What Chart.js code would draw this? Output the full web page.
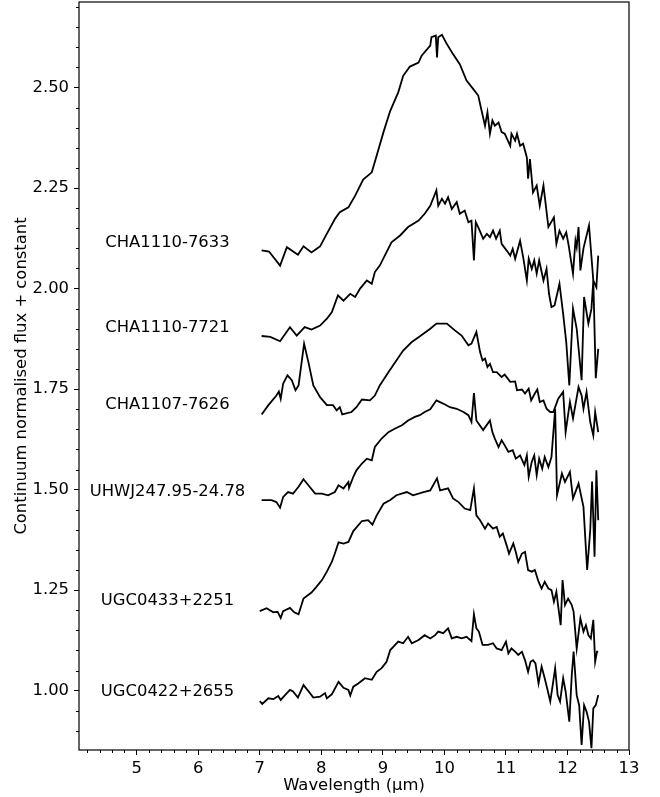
<!DOCTYPE html>
<html>
<head>
<meta charset="utf-8">
<script src="https://cdn.jsdelivr.net/npm/chart.js@4.4.1/dist/chart.umd.min.js"></script>
<style>
  html, body { margin: 0; padding: 0; background: #fff; }
  #wrap { width: 660px; height: 797px; }
</style>
</head>
<body>
<div id="wrap"><canvas id="spectra" width="660" height="797"></canvas></div>
<script>
// wavelength (um) and continuum normalised flux (+ offset)

const cha7633Wave = [7.03, 7.15, 7.33, 7.44, 7.62, 7.71, 7.84, 7.98, 8.06, 8.22, 8.30, 8.44, 8.55, 8.68, 8.82, 8.90, 9.01, 9.12, 9.25, 9.33, 9.44, 9.58, 9.63, 9.77, 9.79, 9.86, 9.88, 9.90, 9.96, 10.04, 10.14, 10.25, 10.36, 10.47, 10.55, 10.58, 10.66, 10.70, 10.74, 10.78, 10.82, 10.88, 10.93, 10.98, 11.07, 11.09, 11.15, 11.18, 11.23, 11.28, 11.34, 11.36, 11.39, 11.44, 11.50, 11.55, 11.61, 11.69, 11.78, 11.82, 11.87, 11.93, 11.98, 12.02, 12.09, 12.13, 12.15, 12.18, 12.21, 12.26, 12.35, 12.42, 12.47, 12.50];
const cha7633Flux = [2.095, 2.092, 2.057, 2.103, 2.084, 2.105, 2.090, 2.105, 2.128, 2.173, 2.190, 2.202, 2.231, 2.271, 2.289, 2.331, 2.389, 2.442, 2.488, 2.529, 2.552, 2.562, 2.579, 2.604, 2.625, 2.629, 2.575, 2.625, 2.631, 2.608, 2.583, 2.558, 2.517, 2.496, 2.480, 2.459, 2.405, 2.438, 2.385, 2.418, 2.405, 2.413, 2.389, 2.385, 2.355, 2.385, 2.368, 2.385, 2.355, 2.360, 2.326, 2.273, 2.322, 2.239, 2.256, 2.206, 2.256, 2.153, 2.177, 2.111, 2.144, 2.124, 2.140, 2.107, 2.037, 2.119, 2.103, 2.153, 2.045, 2.100, 2.157, 2.020, 2.003, 2.082];

const cha7721Wave = [7.03, 7.17, 7.33, 7.49, 7.60, 7.73, 7.84, 7.98, 8.09, 8.17, 8.27, 8.36, 8.47, 8.55, 8.63, 8.74, 8.82, 8.87, 8.95, 9.14, 9.28, 9.41, 9.58, 9.68, 9.77, 9.87, 9.90, 9.96, 10.01, 10.06, 10.12, 10.20, 10.25, 10.33, 10.39, 10.44, 10.48, 10.51, 10.56, 10.63, 10.69, 10.74, 10.79, 10.84, 10.90, 10.93, 11.01, 11.07, 11.11, 11.15, 11.23, 11.28, 11.34, 11.37, 11.42, 11.46, 11.50, 11.54, 11.61, 11.66, 11.70, 11.74, 11.79, 11.87, 11.93, 11.98, 12.03, 12.09, 12.15, 12.23, 12.27, 12.34, 12.39, 12.42, 12.46, 12.50];
const cha7721Flux = [1.882, 1.880, 1.869, 1.904, 1.883, 1.904, 1.898, 1.908, 1.925, 1.941, 1.983, 1.970, 1.987, 1.979, 2.000, 2.020, 2.012, 2.041, 2.057, 2.115, 2.132, 2.153, 2.169, 2.186, 2.206, 2.244, 2.206, 2.223, 2.211, 2.227, 2.198, 2.215, 2.186, 2.194, 2.165, 2.169, 2.070, 2.165, 2.149, 2.124, 2.136, 2.128, 2.144, 2.124, 2.144, 2.111, 2.095, 2.082, 2.099, 2.074, 2.119, 2.078, 2.020, 2.074, 2.049, 2.070, 2.037, 2.070, 2.020, 2.049, 1.987, 1.954, 1.958, 2.012, 1.937, 1.867, 1.759, 1.950, 1.900, 1.772, 1.979, 1.913, 1.950, 2.020, 1.777, 1.850];

const cha7626Wave = [7.03, 7.14, 7.27, 7.31, 7.34, 7.38, 7.45, 7.52, 7.58, 7.63, 7.72, 7.79, 7.87, 7.98, 8.09, 8.19, 8.25, 8.30, 8.34, 8.49, 8.57, 8.66, 8.79, 8.87, 8.95, 9.09, 9.22, 9.33, 9.47, 9.58, 9.77, 9.87, 10.04, 10.17, 10.28, 10.39, 10.44, 10.52, 10.58, 10.62, 10.66, 10.70, 10.74, 10.79, 10.85, 10.93, 10.98, 11.07, 11.15, 11.18, 11.26, 11.31, 11.37, 11.41, 11.47, 11.51, 11.55, 11.61, 11.66, 11.72, 11.77, 11.85, 11.93, 11.97, 12.04, 12.09, 12.18, 12.23, 12.26, 12.31, 12.37, 12.42, 12.45, 12.50];
const cha7626Flux = [1.687, 1.710, 1.734, 1.744, 1.726, 1.764, 1.784, 1.772, 1.747, 1.759, 1.863, 1.817, 1.759, 1.730, 1.710, 1.710, 1.697, 1.705, 1.687, 1.693, 1.705, 1.724, 1.722, 1.734, 1.759, 1.792, 1.821, 1.846, 1.867, 1.879, 1.900, 1.913, 1.913, 1.896, 1.883, 1.859, 1.863, 1.892, 1.842, 1.821, 1.826, 1.805, 1.813, 1.792, 1.792, 1.780, 1.786, 1.768, 1.769, 1.747, 1.749, 1.739, 1.751, 1.722, 1.739, 1.749, 1.718, 1.722, 1.701, 1.693, 1.693, 1.726, 1.743, 1.643, 1.718, 1.677, 1.755, 1.734, 1.701, 1.743, 1.668, 1.635, 1.693, 1.643];

const uhwjWave = [7.03, 7.19, 7.27, 7.33, 7.38, 7.46, 7.54, 7.63, 7.71, 7.79, 7.90, 8.01, 8.11, 8.22, 8.28, 8.36, 8.44, 8.45, 8.52, 8.57, 8.66, 8.74, 8.82, 8.87, 8.98, 9.09, 9.20, 9.31, 9.41, 9.52, 9.60, 9.68, 9.77, 9.87, 9.98, 10.09, 10.20, 10.31, 10.39, 10.44, 10.48, 10.52, 10.63, 10.74, 10.78, 10.82, 10.88, 10.93, 10.98, 11.04, 11.11, 11.16, 11.23, 11.30, 11.34, 11.37, 11.42, 11.46, 11.50, 11.54, 11.59, 11.63, 11.69, 11.74, 11.80, 11.83, 11.91, 11.96, 12.04, 12.09, 12.18, 12.26, 12.32, 12.37, 12.40, 12.44, 12.47, 12.50];
const uhwjFlux = [1.474, 1.474, 1.469, 1.455, 1.482, 1.494, 1.490, 1.507, 1.526, 1.511, 1.490, 1.490, 1.486, 1.494, 1.511, 1.503, 1.519, 1.504, 1.532, 1.548, 1.565, 1.577, 1.573, 1.606, 1.627, 1.643, 1.652, 1.660, 1.672, 1.681, 1.685, 1.693, 1.700, 1.722, 1.714, 1.705, 1.701, 1.693, 1.685, 1.668, 1.740, 1.672, 1.648, 1.672, 1.643, 1.627, 1.606, 1.623, 1.610, 1.594, 1.598, 1.577, 1.585, 1.561, 1.585, 1.532, 1.569, 1.585, 1.536, 1.577, 1.552, 1.581, 1.556, 1.581, 1.701, 1.486, 1.540, 1.519, 1.544, 1.478, 1.515, 1.457, 1.300, 1.399, 1.520, 1.333, 1.548, 1.424];

const ugc2251Wave = [7.00, 7.11, 7.22, 7.29, 7.34, 7.38, 7.49, 7.56, 7.63, 7.71, 7.84, 7.92, 8.01, 8.09, 8.17, 8.22, 8.28, 8.36, 8.44, 8.52, 8.66, 8.76, 8.83, 8.90, 9.01, 9.12, 9.22, 9.39, 9.49, 9.66, 9.77, 9.88, 9.93, 10.06, 10.14, 10.23, 10.33, 10.42, 10.48, 10.52, 10.58, 10.66, 10.71, 10.79, 10.85, 10.90, 10.95, 11.01, 11.05, 11.12, 11.16, 11.20, 11.26, 11.31, 11.36, 11.42, 11.47, 11.53, 11.58, 11.63, 11.69, 11.74, 11.78, 11.82, 11.85, 11.89, 11.92, 11.96, 12.01, 12.07, 12.10, 12.15, 12.21, 12.26, 12.30, 12.34, 12.38, 12.42, 12.45, 12.48, 12.50];
const ugc2251Flux = [1.198, 1.205, 1.195, 1.196, 1.181, 1.198, 1.206, 1.195, 1.190, 1.229, 1.244, 1.258, 1.275, 1.296, 1.320, 1.341, 1.369, 1.366, 1.370, 1.397, 1.422, 1.424, 1.413, 1.436, 1.465, 1.474, 1.486, 1.494, 1.486, 1.494, 1.498, 1.528, 1.498, 1.503, 1.478, 1.469, 1.453, 1.449, 1.503, 1.436, 1.424, 1.403, 1.416, 1.403, 1.407, 1.383, 1.391, 1.362, 1.341, 1.366, 1.345, 1.320, 1.341, 1.345, 1.300, 1.296, 1.300, 1.271, 1.254, 1.271, 1.254, 1.250, 1.221, 1.246, 1.209, 1.163, 1.275, 1.213, 1.229, 1.213, 1.196, 1.105, 1.180, 1.147, 1.163, 1.138, 1.130, 1.176, 1.072, 1.097, 1.097];

const ugc2655Wave = [7.00, 7.04, 7.14, 7.22, 7.30, 7.34, 7.41, 7.49, 7.54, 7.62, 7.71, 7.79, 7.87, 7.98, 8.06, 8.09, 8.17, 8.28, 8.36, 8.44, 8.47, 8.52, 8.60, 8.71, 8.82, 8.90, 8.98, 9.06, 9.12, 9.20, 9.25, 9.33, 9.41, 9.47, 9.58, 9.68, 9.77, 9.85, 9.90, 9.98, 10.06, 10.12, 10.20, 10.28, 10.36, 10.44, 10.48, 10.52, 10.56, 10.62, 10.71, 10.79, 10.85, 10.93, 11.00, 11.04, 11.09, 11.15, 11.20, 11.26, 11.31, 11.36, 11.40, 11.44, 11.48, 11.53, 11.58, 11.63, 11.67, 11.72, 11.76, 11.80, 11.84, 11.88, 11.93, 11.97, 12.03, 12.07, 12.10, 12.15, 12.19, 12.23, 12.27, 12.31, 12.35, 12.39, 12.42, 12.46, 12.50];
const ugc2655Flux = [0.974, 0.967, 0.981, 0.979, 0.987, 0.977, 0.989, 1.002, 0.998, 0.983, 1.014, 0.999, 0.983, 0.985, 0.994, 0.981, 0.991, 1.022, 1.007, 1.002, 0.988, 1.010, 1.018, 1.031, 1.027, 1.047, 1.056, 1.072, 1.101, 1.114, 1.122, 1.118, 1.134, 1.118, 1.126, 1.138, 1.130, 1.138, 1.147, 1.143, 1.155, 1.130, 1.134, 1.130, 1.134, 1.123, 1.190, 1.155, 1.147, 1.114, 1.114, 1.118, 1.105, 1.101, 1.122, 1.093, 1.105, 1.097, 1.089, 1.097, 1.076, 1.047, 1.072, 1.076, 1.068, 1.018, 1.060, 1.031, 1.006, 0.973, 1.014, 1.056, 0.989, 0.973, 1.031, 0.998, 0.923, 1.039, 1.097, 0.989, 0.964, 0.865, 0.964, 0.948, 0.923, 0.857, 0.956, 0.964, 0.989];

const objectNames = ['CHA1110-7633', 'CHA1110-7721', 'CHA1107-7626', 'UHWJ247.95-24.78', 'UGC0433+2251', 'UGC0422+2655'];
const nameFlux = [2.115, 1.902, 1.710, 1.494, 1.223, 0.998];
const nameWave = 5.5;

const xTicks = [5, 6, 7, 8, 9, 10, 11, 12, 13];
const yTicks = [1.00, 1.25, 1.50, 1.75, 2.00, 2.25, 2.50];

const FONT = 'DejaVu Sans';
const FONT_SIZE = 16.4;

function toPoints(wave, flux) {
    return wave.map((w, i) => ({ x: w, y: flux[i] }));
}

const spectra = [
    [cha7633Wave, cha7633Flux],
    [cha7721Wave, cha7721Flux],
    [cha7626Wave, cha7626Flux],
    [uhwjWave, uhwjFlux],
    [ugc2251Wave, ugc2251Flux],
    [ugc2655Wave, ugc2655Flux]
];

// minor ticks, box and object names
const decorations = {
    id: 'decorations',
    afterDraw(chart) {
        const { ctx, chartArea: a, scales: { x, y } } = chart;
        ctx.save();

        ctx.strokeStyle = '#000';
        ctx.lineWidth = 1;
        ctx.beginPath();
        for (let v = 4.2; v < 13; v += 0.2) {
            if (Math.abs(v - Math.round(v)) < 1e-6) continue;
            const px = Math.round(x.getPixelForValue(v)) + 0.5;
            if (px < a.left) continue;
            ctx.moveTo(px, a.bottom);
            ctx.lineTo(px, a.bottom + 3);
        }
        for (let v = 0.90; v < 2.71; v += 0.05) {
            if (Math.abs(v * 4 - Math.round(v * 4)) < 1e-6) continue;
            const py = Math.round(y.getPixelForValue(v)) + 0.5;
            if (py < a.top) continue;
            ctx.moveTo(a.left, py);
            ctx.lineTo(a.left - 3, py);
        }
        ctx.stroke();

        ctx.lineWidth = 1.2;
        ctx.strokeRect(a.left, a.top, a.right - a.left, a.bottom - a.top);

        ctx.fillStyle = '#000';
        ctx.font = FONT_SIZE + 'px "' + FONT + '"';
        ctx.textAlign = 'center';
        ctx.textBaseline = 'middle';
        objectNames.forEach((name, i) => {
            ctx.fillText(name, x.getPixelForValue(nameWave), y.getPixelForValue(nameFlux[i]));
        });
        ctx.restore();
    }
};

Chart.defaults.font.family = FONT;
Chart.defaults.font.size = FONT_SIZE;
Chart.defaults.color = '#000';

const ctx = document.getElementById('spectra').getContext('2d');

new Chart(ctx, {
    type: 'scatter',
    data: {
        datasets: spectra.map(([w, f], i) => ({
            label: objectNames[i],
            data: toPoints(w, f),
            showLine: true,
            borderColor: '#000',
            borderWidth: 1.8,
            pointRadius: 0,
            tension: 0
        }))
    },
    options: {
        responsive: false,
        animation: false,
        layout: { padding: { top: 2, right: 31, left: 0, bottom: 0 } },
        plugins: {
            legend: { display: false },
            tooltip: { enabled: false }
        },
        scales: {
            x: {
                type: 'linear',
                min: 4.062,
                max: 13,
                afterBuildTicks: s => { s.ticks = xTicks.map(v => ({ value: v })); },
                afterFit: s => { s.height = 47; s.paddingLeft = 0; s.paddingRight = 0; },
                ticks: { padding: 3.5, callback: v => String(v) },
                grid: { drawOnChartArea: false, drawTicks: true, tickLength: 5, tickColor: '#000', tickWidth: 1 },
                border: { display: false },
                title: { display: true, text: 'Wavelength (µm)', padding: { top: 0, bottom: 1 } }
            },
            y: {
                type: 'linear',
                min: 0.8525,
                max: 2.7126,
                afterBuildTicks: s => { s.ticks = yTicks.map(v => ({ value: v })); },
                afterFit: s => { s.width = 79; s.paddingTop = 0; s.paddingBottom = 0; },
                ticks: { padding: 5, callback: v => v.toFixed(2) },
                grid: { drawOnChartArea: false, drawTicks: true, tickLength: 5, tickColor: '#000', tickWidth: 1 },
                border: { display: false },
                title: { display: true, text: 'Continuum normalised flux + constant', padding: { top: 12, bottom: 0 } }
            }
        }
    },
    plugins: [decorations]
});
</script>
</body>
</html>
